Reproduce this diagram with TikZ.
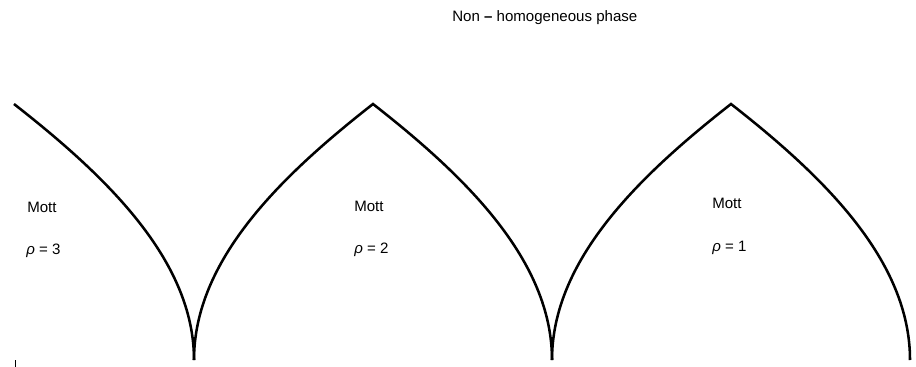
\documentclass[tikz,border=0pt]{standalone}
\usepackage{fontspec}
\setmainfont{Liberation Sans}
\begin{document}
\begin{tikzpicture}[x=0.75pt,y=-0.75pt,
  lobe/.style={line width=1.9pt,line join=miter,line cap=butt},
  lbl/.style={anchor=base west,inner sep=0pt,font=\fontsize{11.3}{13}\selectfont}]
\useasboundingbox (0,0) rectangle (916,367);
% key points
\coordinate (s0) at (14,104);
\coordinate (c1) at (194,360);
\coordinate (p2) at (373,104);
\coordinate (c2) at (552,360);
\coordinate (p3) at (731,104);
\coordinate (c3) at (910,360);
% lobe boundaries
\draw[lobe] (s0) .. controls (106,176) and (194,260) .. (c1);
\draw[lobe] (c1) .. controls (194,260) and (281,176) .. (p2)
                 .. controls (465,176) and (552,260) .. (c2);
\draw[lobe] (c2) .. controls (552,260) and (639,176) .. (p3)
                 .. controls (823,176) and (910,260) .. (c3);
% tick
\coordinate (t0) at (15.5,360);
\coordinate (t1) at (15.5,367);
\draw[line width=0.8pt] (t0) -- (t1);
% labels
\node[lbl] (title) at (452,22) {Non \textbf{–} homogeneous phase};
\node[lbl] (m3) at (27,212) {Mott};
\node[lbl] (r3) at (26,254) {\textit{ρ} = 3};
\node[lbl] (m2) at (354,211) {Mott};
\node[lbl] (r2) at (354,253) {\textit{ρ} = 2};
\node[lbl] (m1) at (712,208) {Mott};
\node[lbl] (r1) at (712,251) {\textit{ρ} = 1};
\end{tikzpicture}
\end{document}
